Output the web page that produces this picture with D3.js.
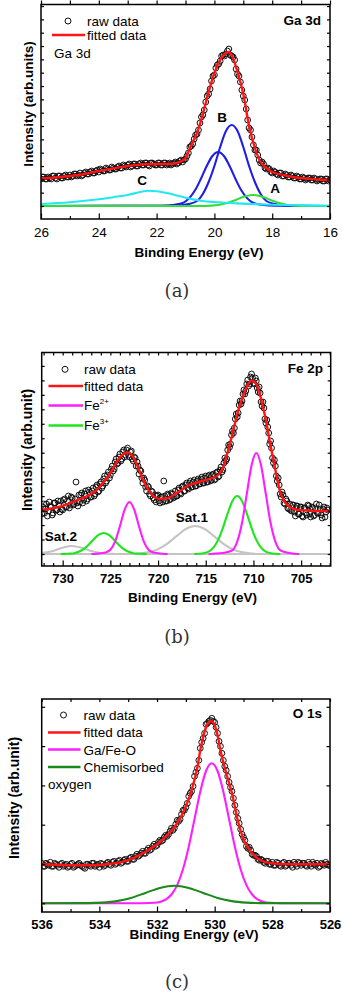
<!DOCTYPE html>
<html>
<head>
<meta charset="utf-8">
<script src="https://cdn.jsdelivr.net/npm/d3@7"></script>
<style>
  body { margin: 0; background: #fff; }
  svg { display: block; }
  text { font-family: "Liberation Sans", Arial, sans-serif; }
</style>
</head>
<body>
<svg id="chart" width="342" height="994"></svg>
<script>
// ---------- Ga 3d (a) ----------
const gaTicks = [26, 24, 22, 20, 18, 16];
// two interleaved scans: 26.00 -> 16.00 and 25.95 -> 16.05, 0.1 eV steps
const gaRaw = [
  27, 29, 27, 28, 30, 28, 30, 28, 30, 29,
  31, 30, 32, 31, 30, 33, 32, 34, 33, 35,
  34, 36, 35, 37, 36, 38, 37, 40, 38, 40,
  41, 39, 42, 40, 42, 41, 43, 41, 43, 42,
  41, 43, 41, 43, 42, 41, 43, 42, 45, 44,
  47, 53, 60, 67, 72, 83, 91, 104, 112, 125,
  131, 141, 145, 151, 152, 157, 150, 146, 132, 124,
  110, 97, 78, 69, 56, 51, 43, 42, 37, 37,
  33, 34, 31, 33, 30, 31, 29, 30, 28, 29,
  27, 28, 27, 28, 26, 27, 26, 27, 25, 27,
  26
];
const gaRaw2 = [
  29, 27, 29, 27, 30, 27, 30, 28, 31, 29,
  29, 32, 30, 33, 31, 34, 32, 35, 33, 36,
  37, 35, 38, 36, 39, 37, 39, 38, 41, 39,
  42, 40, 42, 40, 43, 41, 43, 40, 43, 41,
  43, 41, 43, 41, 43, 42, 44, 43, 46, 46,
  50, 59, 62, 71, 76, 89, 96, 110, 117, 130,
  138, 142, 150, 150, 155, 151, 149, 137, 130, 116,
  106, 86, 76, 61, 56, 46, 44, 38, 38, 34,
  35, 32, 33, 30, 32, 29, 31, 28, 30, 27,
  29, 26, 28, 26, 28, 25, 27, 25, 27, 25
];
const gaFit = [[26,27.5],[25.5,28.5],[25,30],[24.5,32],[24,35],[23.5,37.5],[23,40],[22.5,41.5],[22,42],[21.6,42],
  [21.3,43],[21.1,45.5],[21,48],[20.9,54],[20.8,61],[20.6,73],[20.4,92],[20.2,114],[20,133],[19.8,146],[19.65,152],
  [19.5,154],[19.4,151],[19.2,134],[19,112],[18.8,80],[18.6,58],[18.4,44],[18.2,38],[18,34],[17.6,31],[17.2,28.5],
  [16.8,27.5],[16.4,26.5],[16,26]];
const gaB1 = [[26,0],[21.4,0.3],[20.9,2],[20.6,5],[20.4,12],[20.2,24],[20,40],[19.8,59],[19.6,75],[19.4,81],
  [19.2,75],[19,59],[18.8,40],[18.6,24],[18.4,12],[18.2,5],[17.9,2],[17.4,0.3],[16,0]];
const gaB2 = [[26,0],[21.87,0.3],[21.37,1.3],[21.07,3.4],[20.87,7.9],[20.67,15.7],[20.47,27],[20.27,39.7],[20.07,50],
  [19.87,54],[19.67,50],[19.47,39.7],[19.27,27],[19.07,15.7],[18.87,7.9],[18.67,3.4],[18.37,1.3],[17.87,0.3],[16,0]];
const gaA = [[26,0],[20.4,0],[20.16,0.3],[19.86,1],[19.56,2.9],[19.26,6.1],[18.96,9.5],[18.66,11],[18.36,9.5],
  [18.06,6.1],[17.76,2.9],[17.46,1],[17.16,0.3],[16.9,0],[16,0]];
const gaC = [[26,2],[25,3.7],[24,6.7],[23.5,8.8],[23,11],[22.6,13.8],[22.3,15.2],[22,14.8],[21.6,12.7],[21.3,10.5],
  [21,8.3],[20.7,6.4],[20.4,5],[20,4],[19.6,3.3],[19.2,2.6],[18.7,2],[18,1.3],[17,0.7],[16,0.3]];

// ---------- Fe 2p (b) ----------
const feTicks = [730, 725, 720, 715, 710, 705];
// scans: 732.2 -> 702.2 and 732.1 -> 702.3, 0.2 eV steps
const feRaw = [
  40, 50, 45, 38, 52, 47, 41, 51, 44, 49,
  53, 44, 55, 47, 58, 49, 56, 50, 72, 48,
  52, 61, 54, 63, 55, 62, 57, 66, 60, 69,
  63, 72, 68, 78, 73, 82, 79, 88, 85, 95,
  91, 100, 95, 104, 99, 106, 97, 103, 93, 96,
  92, 80, 83, 71, 74, 63, 67, 58, 62, 54,
  52, 59, 51, 57, 73, 53, 60, 54, 61, 56,
  63, 58, 66, 60, 68, 63, 71, 65, 73, 67,
  74, 68, 75, 70, 77, 71, 78, 72, 79, 74,
  80, 75, 82, 78, 87, 84, 96, 95, 109, 110,
  123, 126, 140, 141, 153, 153, 164, 163, 174, 170,
  180, 171, 176, 166, 167, 152, 152, 135, 134, 121,
  113, 96, 94, 78, 76, 60, 62, 51, 55, 46,
  50, 43, 49, 38, 48, 40, 47, 37, 46, 39,
  48, 37, 46, 39, 50, 41, 45, 36, 47, 42,
  44
];
const feRaw2 = [
  47, 41, 50, 43, 48, 39, 51, 44, 53, 42,
  45, 54, 47, 53, 46, 57, 49, 55, 51, 59,
  59, 51, 60, 53, 64, 57, 63, 58, 67, 62,
  70, 66, 75, 71, 79, 76, 85, 83, 92, 90,
  97, 93, 102, 97, 104, 99, 102, 95, 97, 88,
  88, 84, 76, 76, 67, 68, 60, 63, 56, 59,
  58, 53, 57, 52, 58, 53, 59, 55, 60, 57,
  58, 64, 61, 67, 63, 69, 66, 71, 67, 72,
  68, 73, 70, 75, 71, 76, 72, 78, 73, 79,
  74, 81, 77, 84, 82, 91, 93, 104, 107, 119,
  121, 135, 137, 149, 150, 160, 160, 170, 168, 177,
  176, 170, 173, 162, 161, 148, 146, 131, 127, 110,
  106, 91, 88, 73, 69, 57, 59, 50, 53, 45,
  44, 49, 42, 48, 40, 47, 38, 46, 41, 49,
  40, 47, 38, 46, 41, 49, 39, 45, 37, 46
];
const feFit = [[732.2,44],[731.2,45.5],[730.2,47.5],[729.2,51],[728.2,55],[727.2,59],[726.2,66],[725.7,72],[725.2,78],
  [724.7,86],[724.2,94],[723.7,99.5],[723.2,101.5],[722.7,98],[722.2,89],[721.7,77],[721.2,67],[720.7,60],[720.2,56],
  [719.7,55],[719.2,55.5],[718.7,57],[718.2,60],[717.7,63],[717.2,66.5],[716.7,69],[716.2,70.5],[715.2,73.5],
  [714.2,76.5],[713.7,79],[713.2,86],[712.7,102],[712.2,120],[711.7,140],[711.2,155],[710.7,167],[710.2,173.5],
  [709.7,170],[709.2,155],[708.7,134],[708.2,108],[707.7,84],[707.2,62],[706.7,52],[706.2,47],[705.7,45],[705.2,44],
  [704.2,43.5],[703.2,43],[701.9,43]];
const feFe2a = [[714.7,0],[714.2,0.3],[713.2,1],[712.7,2],[712.2,3.8],[711.7,12.4],[711.2,31],[710.7,59.8],[710.2,88.6],
  [709.7,101],[709.2,88.6],[708.7,59.8],[708.2,31],[707.7,12.4],[707.2,3.8],[706.7,2],[706.2,1],[705.7,0.3],[705.2,0]];
const feFe2b = [[727,0],[726.5,0.3],[726,0.8],[725.5,1.5],[725,4.2],[724.5,12.6],[724,27.7],[723.5,44.4],[723,52],
  [722.5,44.4],[722,27.7],[721.5,12.6],[721,4.2],[720.5,1.5],[720,0.8],[719.5,0.3],[719,0]];
const feFe3a = [[716.2,0],[715.7,0.2],[715.2,0.8],[714.7,2.4],[714.2,6.4],[713.7,14.1],[713.2,26.2],[712.7,40.7],
  [712.2,53.1],[711.7,58],[711.2,53.1],[710.7,40.7],[710.2,26.2],[709.7,14.1],[709.2,6.4],[708.7,2.4],[708.2,0.8],
  [707.7,0.2],[707.2,0]];
const feFe3b = [[730.2,0],[729.7,0.2],[729.2,0.4],[728.7,1.1],[728.2,2.7],[727.7,5.6],[727.2,10],[726.7,15.1],
  [726.2,19.3],[725.7,21],[725.2,19.3],[724.7,15.1],[724.2,10],[723.7,5.6],[723.2,2.7],[722.7,1.1],[722.2,0.4],
  [721.7,0.2],[721.2,0]];
const feSat1 = [[732.2,0],[722.6,0],[722.1,0.4],[721.1,1.6],[720.1,4.4],[719.1,9.9],[718.1,17.6],[717.1,25],[716.1,28],
  [715.1,25],[714.1,17.6],[713.1,9.9],[712.1,4.4],[711.1,1.6],[710.1,0.4],[709.6,0],[701.9,0]];
const feSat2 = [[732.2,1.1],[731,3.1],[730,6.2],[729.05,8],[728,6.2],[727,3.1],[726,1],[725,0.2],[724.5,0],[701.9,0]];

// ---------- O 1s (c) ----------
const oTicks = [536, 534, 532, 530, 528, 526];
// scans: 536.00 -> 526.00 and 535.95 -> 526.05, 0.1 eV steps
const oRaw = [
  40, 37, 39, 41, 37, 39, 36, 40, 38, 36,
  39, 36, 38, 40, 37, 35, 39, 37, 40, 38,
  36, 39, 38, 41, 38, 42, 40, 43, 41, 44,
  42, 46, 44, 49, 48, 52, 50, 55, 54, 59,
  58, 63, 63, 68, 69, 75, 75, 83, 84, 93,
  96, 107, 112, 127, 135, 155, 165, 179, 182, 185,
  181, 170, 157, 143, 133, 121, 112, 98, 85, 74,
  66, 57, 56, 49, 48, 44, 44, 41, 42, 39,
  41, 38, 40, 37, 41, 38, 40, 36, 39, 41,
  38, 40, 37, 39, 41, 38, 36, 40, 38, 39,
  38
];
const oRaw2 = [
  37, 40, 38, 37, 40, 38, 39, 37, 39, 37,
  40, 37, 39, 38, 36, 39, 38, 40, 37, 39,
  40, 37, 40, 39, 41, 39, 42, 40, 43, 42,
  45, 44, 47, 47, 50, 50, 53, 53, 57, 57,
  61, 62, 66, 67, 72, 73, 79, 82, 89, 93,
  100, 110, 117, 131, 143, 161, 170, 180, 183, 182,
  176, 162, 150, 137, 127, 116, 105, 91, 80, 69,
  63, 55, 53, 48, 47, 43, 43, 40, 42, 39,
  38, 41, 38, 40, 37, 40, 38, 41, 37, 40,
  40, 38, 41, 37, 39, 40, 37, 39, 41, 38
];
const oFit = [[536,39],[535.5,38.5],[535,38],[534.5,38],[534,38.3],[533.6,39.5],[533.2,41.5],[532.8,45.5],[532.4,51.5],
  [532,59],[531.7,66.5],[531.4,76],[531.2,85],[531,97],[530.8,113],[530.6,136],[530.5,153],[530.4,166],[530.3,176],
  [530.2,181],[530.1,182],[530,178],[529.9,168],[529.8,153],[529.6,130],[529.4,110],[529.2,83],[529,64],[528.8,54],
  [528.6,47],[528.4,43],[528,40],[527.6,39.3],[527,39],[526.5,39],[526,39]];
const oGaFeO = [[536,0],[532.5,0.1],[532.1,0.5],[531.9,1.4],[531.7,3.7],[531.5,8.8],[531.3,18.2],[531.1,34],[530.9,56.6],
  [530.7,84.1],[530.5,111.6],[530.3,132.3],[530.1,140],[529.9,132.3],[529.7,111.6],[529.5,84.1],[529.3,56.6],[529.1,34],
  [528.9,18.2],[528.7,8.8],[528.5,3.7],[528.3,1.4],[528.1,0.5],[527.7,0.1],[526,0]];
const oChem = [[536,0],[534.4,0.2],[533.9,0.7],[533.4,2.2],[532.9,5.4],[532.4,10.4],[531.9,15.4],[531.4,17.6],
  [530.9,15.4],[530.4,10.4],[529.9,5.4],[529.4,2.2],[528.9,0.7],[528.4,0.2],[526,0]];

// ---------- colours ----------
const RED = '#ff1414', BLUE = '#1e1ee6', CYAN = '#22e8f2', GREEN_A = '#33dd33',
      MAGENTA = '#ff1eff', GREEN_B = '#1ee61e', GRAY = '#c4c4c4', GREEN_C = '#1a8a1a';

const svg = d3.select('#chart');
const FONT = '"Liberation Sans", Arial, sans-serif';

const panels = [
  {
    id: 'a', left: 41, right: 330, top: 4.5, bottom: 219, yDomain: [-13, 201.5], yStep: 13.33, yTick: 3,
    xDomain: [26, 16], xMajor: gaTicks, xMinorStep: 1, tickBold: false, tickPad: 8.5, topOut: true,
    scans: [{ v: gaRaw, start: 26, step: -0.1 }, { v: gaRaw2, start: 25.95, step: -0.1 }], fit: gaFit,
    comps: [{ p: gaB1, c: BLUE }, { p: gaB2, c: BLUE }, { p: gaA, c: GREEN_A }, { p: gaC, c: CYAN }],
    xTitle: { x: 199, y: 257 }, yTitle: { text: 'Intensity (arb.units)', x: 28.5, y: 104, size: 13.5 },
    caption: { text: '(a)', x: 177, y: 297 },
    tag: { text: 'Ga 3d', x: 321, y: 25 },
    legend: { cx: 68, lx1: 52, lx2: 85, tx: 87, rows: [
      { kind: 'circle', y: 21, ty: 25.5, text: 'raw data' },
      { kind: 'line', y: 35, ty: 40, text: 'fitted data', color: RED },
      { kind: 'text', ty: 58, text: 'Ga 3d', tx: 54 }
    ]},
    notes: [{ text: 'B', x: 222, y: 121.5 }, { text: 'C', x: 142, y: 185 }, { text: 'A', x: 275, y: 192.5 }]
  },
  {
    id: 'b', left: 41.7, right: 330.7, top: 352.5, bottom: 566, yDomain: [-12, 201.5], yStep: 14.47, yTick: 3,
    xDomain: [732.2, 701.9], xMajor: feTicks, xMinorStep: 1, tickBold: true, tickPad: 7.5, topOut: false,
    scans: [{ v: feRaw, start: 732.2, step: -0.2 }, { v: feRaw2, start: 732.1, step: -0.2 }], fit: feFit,
    comps: [{ p: feSat1, c: GRAY }, { p: feSat2, c: GRAY }, { p: feFe3a, c: GREEN_B }, { p: feFe3b, c: GREEN_B },
            { p: feFe2a, c: MAGENTA }, { p: feFe2b, c: MAGENTA }],
    xTitle: { x: 192.5, y: 602 }, yTitle: { text: 'Intensity (arb.unit)', x: 27, y: 450, size: 14 },
    caption: { text: '(b)', x: 177, y: 643 },
    tag: { text: 'Fe 2p', x: 323, y: 372.5 },
    legend: { cx: 65, lx1: 48.5, lx2: 83, tx: 84, rows: [
      { kind: 'circle', y: 369.3, ty: 374, text: 'raw data' },
      { kind: 'line', y: 386, ty: 390.5, text: 'fitted data', color: RED },
      { kind: 'line', y: 405.5, ty: 410, text: 'Fe', sup: '2+', color: MAGENTA },
      { kind: 'line', y: 425.5, ty: 430, text: 'Fe', sup: '3+', color: GREEN_B }
    ]},
    notes: [{ text: 'Sat.1', x: 192, y: 521.5 }, { text: 'Sat.2', x: 61, y: 541 }]
  },
  {
    id: 'c', left: 41.7, right: 330, top: 699, bottom: 912, yDomain: [-8.7, 204.3], yStep: 39.3, yTick: 3.5,
    xDomain: [536, 526], xMajor: oTicks, xMinorStep: 1, tickBold: true, tickPad: 7.5, topOut: false,
    scans: [{ v: oRaw, start: 536, step: -0.1 }, { v: oRaw2, start: 535.95, step: -0.1 }], fit: oFit,
    comps: [{ p: oGaFeO, c: MAGENTA }, { p: oChem, c: GREEN_C }],
    xTitle: { x: 194, y: 938.5 }, yTitle: { text: 'Intensity (arb.unit)', x: 14.2, y: 798, size: 14 },
    caption: { text: '(c)', x: 177, y: 988 },
    tag: { text: 'O 1s', x: 322, y: 717.5 },
    legend: { cx: 63.5, lx1: 48, lx2: 80.5, tx: 83.5, rows: [
      { kind: 'circle', y: 715, ty: 720, text: 'raw data' },
      { kind: 'line', y: 732.5, ty: 737, text: 'fitted data', color: RED },
      { kind: 'line', y: 749.5, ty: 754.5, text: 'Ga/Fe-O', color: MAGENTA },
      { kind: 'line', y: 767, ty: 772, text: 'Chemisorbed', color: GREEN_C },
      { kind: 'text', ty: 788.5, text: 'oxygen', tx: 48 }
    ]},
    notes: []
  }
];

function styleAxis(sel, bold, size) {
  sel.attr('font-family', FONT).attr('font-size', size).attr('font-weight', bold ? 'bold' : 'normal');
  sel.select('.domain').remove();
  sel.selectAll('line').attr('stroke', '#000').attr('stroke-width', 1.2);
  sel.selectAll('text').attr('fill', '#000');
}

function drawPanel(p) {
  const x = d3.scaleLinear().domain(p.xDomain).range([p.left, p.right]);
  const y = d3.scaleLinear().domain(p.yDomain).range([p.bottom, p.top]);
  const g = svg.append('g').attr('class', 'panel-' + p.id);

  g.append('clipPath').attr('id', 'clip-' + p.id).append('rect')
    .attr('x', p.left).attr('y', p.top).attr('width', p.right - p.left).attr('height', p.bottom - p.top);
  const plot = g.append('g').attr('clip-path', `url(#clip-${p.id})`);

  const line = d3.line().x(d => x(d[0])).y(d => y(d[1])).curve(d3.curveMonotoneX);

  // fitted components
  p.comps.forEach(c => {
    plot.append('path').datum(c.p).attr('d', line)
      .attr('fill', 'none').attr('stroke', c.c).attr('stroke-width', 2.1);
  });

  // raw data (open circles)
  p.scans.forEach(s => {
    plot.append('g').selectAll('circle').data(s.v).join('circle')
      .attr('cx', (d, i) => x(s.start + i * s.step))
      .attr('cy', d => y(d))
      .attr('r', 2.9)
      .attr('fill', 'none').attr('stroke', '#111').attr('stroke-width', 1);
  });

  // fitted envelope
  plot.append('path').datum(p.fit).attr('d', line)
    .attr('fill', 'none').attr('stroke', RED).attr('stroke-width', 2.4);

  // axes: ticks only, frame drawn separately
  const [xa, xb] = d3.extent(p.xDomain);
  const all = d3.range(Math.ceil(xa), Math.floor(xb) + 1, p.xMinorStep);
  const minor = all.filter(v => !p.xMajor.includes(v));

  g.append('g').attr('transform', `translate(0,${p.bottom})`)
    .call(d3.axisBottom(x).tickValues(p.xMajor).tickSize(-5.5).tickPadding(p.tickPad).tickFormat(d3.format('d')))
    .call(s => styleAxis(s, p.tickBold, p.tickBold ? 13 : 13.5));
  g.append('g').attr('transform', `translate(0,${p.bottom})`)
    .call(d3.axisBottom(x).tickValues(minor).tickSize(-3).tickFormat(''))
    .call(s => styleAxis(s, false, 10));
  g.append('g').attr('transform', `translate(0,${p.top})`)
    .call(d3.axisTop(x).tickValues(all).tickSize(p.topOut ? 4 : -3).tickFormat(''))
    .call(s => styleAxis(s, false, 10));

  const yt = d3.range(0, p.yDomain[1], p.yStep);
  g.append('g').attr('transform', `translate(${p.left},0)`)
    .call(d3.axisLeft(y).tickValues(yt).tickSize(-p.yTick).tickFormat(''))
    .call(s => styleAxis(s, false, 10));
  g.append('g').attr('transform', `translate(${p.right},0)`)
    .call(d3.axisRight(y).tickValues(yt).tickSize(-p.yTick).tickFormat(''))
    .call(s => styleAxis(s, false, 10));

  g.append('rect')
    .attr('x', p.left).attr('y', p.top).attr('width', p.right - p.left).attr('height', p.bottom - p.top)
    .attr('fill', 'none').attr('stroke', '#000').attr('stroke-width', 1.5);

  // titles
  g.append('text').attr('x', p.xTitle.x).attr('y', p.xTitle.y)
    .attr('text-anchor', 'middle').attr('font-weight', 'bold').attr('font-size', 13.5)
    .text('Binding Energy (eV)');
  g.append('text')
    .attr('transform', `translate(${p.yTitle.x},${p.yTitle.y}) rotate(-90)`)
    .attr('text-anchor', 'middle').attr('dominant-baseline', 'central')
    .attr('font-weight', 'bold').attr('font-size', p.yTitle.size)
    .text(p.yTitle.text);
  g.append('text').attr('x', p.caption.x).attr('y', p.caption.y)
    .attr('text-anchor', 'middle').attr('font-size', 18).attr('fill', '#333')
    .style('font-family', '"DejaVu Serif", "Liberation Serif", serif')
    .text(p.caption.text);
  g.append('text').attr('x', p.tag.x).attr('y', p.tag.y)
    .attr('text-anchor', 'end').attr('font-weight', 'bold').attr('font-size', 13.5)
    .text(p.tag.text);

  p.notes.forEach(n => {
    g.append('text').attr('x', n.x).attr('y', n.y)
      .attr('text-anchor', 'middle').attr('font-weight', 'bold').attr('font-size', 13.5)
      .text(n.text);
  });

  // legend
  const L = p.legend;
  L.rows.forEach(r => {
    if (r.kind === 'circle') {
      g.append('circle').attr('cx', L.cx).attr('cy', r.y).attr('r', 3)
        .attr('fill', 'none').attr('stroke', '#111').attr('stroke-width', 1);
    } else if (r.kind === 'line') {
      g.append('line').attr('x1', L.lx1).attr('x2', L.lx2).attr('y1', r.y).attr('y2', r.y)
        .attr('stroke', r.color).attr('stroke-width', 2.4);
    }
    const t = g.append('text').attr('x', r.tx != null ? r.tx : L.tx).attr('y', r.ty)
      .attr('font-size', 13.5);
    t.append('tspan').text(r.text);
    if (r.sup) t.append('tspan').attr('dy', -6.5).attr('font-size', 8).text(r.sup);
  });
}

panels.forEach(drawPanel);
</script>
</body>
</html>
